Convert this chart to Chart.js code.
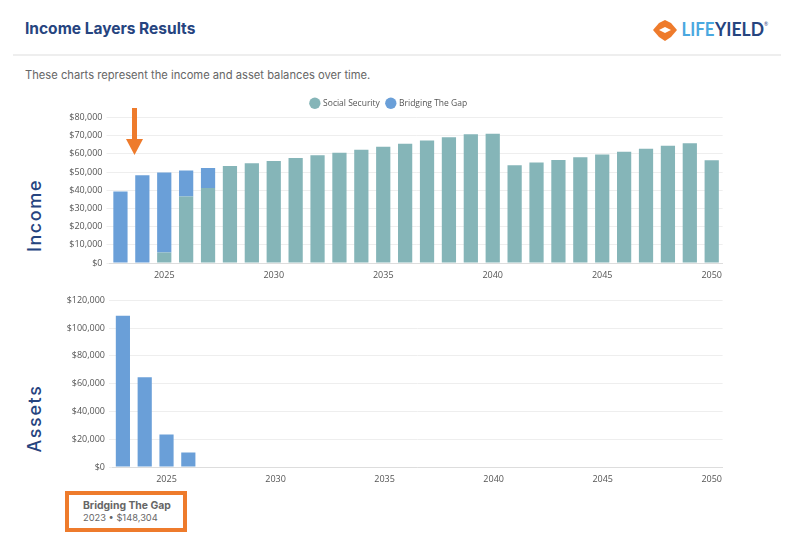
<!DOCTYPE html>
<html>
<head>
<meta charset="utf-8">
<title>Income Layers Results</title>
<script src="https://cdn.jsdelivr.net/npm/chart.js@4/dist/chart.umd.min.js"></script>
<style>
    body { margin: 0; background: #fff; font-family: Inter, sans-serif; }
    #page { position: relative; width: 800px; height: 550px; overflow: hidden; }
    #page > * { position: absolute; }
    canvas { left: 49px; }
    #title { left: 25px; top: 19px; font-size: 15.5px; font-weight: 700; color: #26447f; }
    #rule { left: 13px; top: 54px; width: 768px; height: 2px; background: #eeeeee; }
    #subtitle { left: 25px; top: 68px; font-size: 11.2px; color: #666; }
    #logo { left: 650px; top: 17px; }
    #arrow { left: 124px; top: 105px; }
    .side { width: 100px; left: -16px; text-align: center; font-size: 18px; font-weight: 500; letter-spacing: 1.6px; color: #26447f; transform: rotate(-90deg); }
    #note { left: 65px; top: 491px; width: 114px; height: 33px; border: 4px solid #ee7b2c; }
    #note div { margin-left: 14px; font-size: 9.3px; line-height: 12px; color: #666; white-space: nowrap; }
    #note .head { margin-top: 5px; font-size: 10.4px; font-weight: 700; }
</style>
</head>
<body>
<div id="page">
    <div id="title">Income Layers Results</div>
    <svg id="logo" width="125" height="28" viewBox="0 0 125 28">
        <polygon points="3,13 9,6 15,3 21,6 27,13 21,20 15,24 9,20" fill="#ee7b2c"/>
        <polygon points="9,13 15,10 21,13 15,16" fill="#fff"/>
        <text x="31.5" y="19" font-family="Lato" font-size="18" font-weight="700" fill="#4aa8e0" textLength="33" lengthAdjust="spacingAndGlyphs">LIFE</text>
        <text x="65" y="19" font-family="Lato" font-size="18" font-weight="700" fill="#26447f" textLength="49" lengthAdjust="spacingAndGlyphs">YIELD</text>
        <text x="114" y="9" font-family="Lato" font-size="5" fill="#26447f">®</text>
    </svg>
    <div id="rule"></div>
    <div id="subtitle">These charts represent the income and asset balances over time.</div>
    <canvas id="incomeChart" width="680" height="191" style="top:92px"></canvas>
    <canvas id="assetsChart" width="680" height="196" style="top:291px"></canvas>
    <div class="side" style="top:205px">Income</div>
    <div class="side" style="top:408px">Assets</div>
    <svg id="arrow" width="22" height="52" viewBox="0 0 22 52">
        <polygon points="8,3 13,3 13,34 19,34 10.5,50 2,34 8,34" fill="#ee7b2c"/>
    </svg>
    <div id="note">
        <div class="head">Bridging The Gap</div>
        <div>2023 • $148,304</div>
    </div>
</div>

<script>
const years = [2023, 2024, 2025, 2026, 2027, 2028, 2029, 2030, 2031, 2032, 2033, 2034, 2035, 2036,
    2037, 2038, 2039, 2040, 2041, 2042, 2043, 2044, 2045, 2046, 2047, 2048, 2049, 2050];

const socialSecurity = [0, 0, 5800, 36600, 41200, 53400, 54900, 56100, 57800, 59200, 60600, 62300, 63900, 65500,
    67300, 69100, 70800, 71100, 53800, 55200, 56700, 58100, 59700, 61200, 62800, 64400, 65900, 56500];
const bridgingIncome = [39300, 48200, 43900, 14300, 11000, 0, 0, 0, 0, 0, 0, 0, 0, 0,
    0, 0, 0, 0, 0, 0, 0, 0, 0, 0, 0, 0, 0, 0];
const bridgingAssets = [108900, 64600, 23400, 10400, 0, 0, 0, 0, 0, 0, 0, 0, 0, 0,
    0, 0, 0, 0, 0, 0, 0, 0, 0, 0, 0, 0, 0, 0];

const TEAL = "#85b5b8";
const BLUE = "#6a9fd8";

function money(value) {
    return "$" + value.toLocaleString("en-US");
}

function loadBars(canvasId, datasets, yMax, yStep, axisWidth, showLegend) {
    new Chart(document.getElementById(canvasId), {
        type: "bar",
        data: { labels: years, datasets: datasets },
        options: {
            responsive: false,
            animation: false,
            plugins: {
                tooltip: { enabled: false },
                legend: {
                    display: showLegend,
                    position: "top",
                    labels: {
                        usePointStyle: true,
                        pointStyle: "circle",
                        boxWidth: 8,
                        boxHeight: 8,
                        padding: 7,
                        color: "#555",
                        font: { family: "Open Sans", size: 8.5 }
                    }
                }
            },
            scales: {
                x: {
                    stacked: true,
                    grid: { display: false, drawTicks: false },
                    border: { color: "#dddddd" },
                    afterFit: function (scale) { scale.height = 20; },
                    ticks: {
                        autoSkip: false,
                        maxRotation: 0,
                        padding: 7,
                        color: "#555",
                        font: { family: "Open Sans", size: 9 },
                        callback: function (value, index) {
                            return years[index] % 5 === 0 ? years[index] : "";
                        }
                    }
                },
                y: {
                    stacked: true,
                    min: 0,
                    max: yMax,
                    afterFit: function (scale) { scale.width = axisWidth; },
                    grid: { color: "#eeeeee", tickLength: 3 },
                    border: { display: false },
                    ticks: {
                        stepSize: yStep,
                        padding: 4,
                        color: "#555",
                        font: { family: "Open Sans", size: 9 },
                        callback: money
                    }
                }
            }
        }
    });
}

loadBars("incomeChart", [
    { label: "Social Security", data: socialSecurity, backgroundColor: TEAL, barPercentage: 0.65, categoryPercentage: 1 },
    { label: "Bridging The Gap", data: bridgingIncome, backgroundColor: BLUE, barPercentage: 0.65, categoryPercentage: 1 }
], 80000, 10000, 60.5, true);

loadBars("assetsChart", [
    { label: "Bridging The Gap", data: bridgingAssets, backgroundColor: BLUE, barPercentage: 0.65, categoryPercentage: 1 }
], 120000, 20000, 63, false);
</script>
</body>
</html>
